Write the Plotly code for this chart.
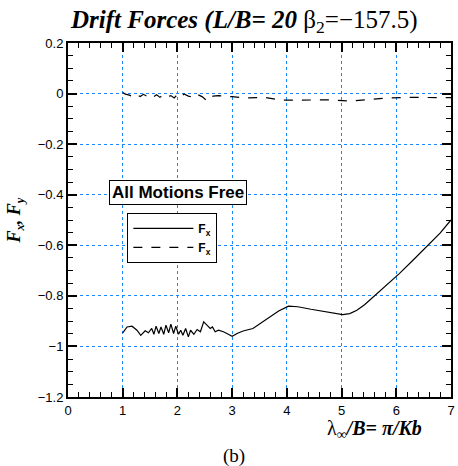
import plotly.graph_objects as go

# Solid line (Fx)
fx_x = [1.00, 1.08, 1.17, 1.26, 1.33, 1.41, 1.47, 1.53, 1.57, 1.61, 1.66, 1.70, 1.75, 1.79,
        1.84, 1.88, 1.93, 1.97, 2.02, 2.06, 2.10, 2.15, 2.20, 2.24, 2.30, 2.36, 2.42, 2.48,
        2.54, 2.60, 2.64, 2.69, 2.75, 2.84, 2.93, 3.00, 3.10, 3.20, 3.38, 3.55, 3.71, 3.85,
        4.03, 4.20, 4.44, 4.70, 4.86, 5.02, 5.15, 5.28, 5.42, 5.58, 5.80, 6.06, 6.30, 6.55,
        6.80, 7.00]
fx_y = [-0.946, -0.923, -0.920, -0.936, -0.956, -0.938, -0.946, -0.929, -0.952, -0.920,
        -0.949, -0.923, -0.952, -0.916, -0.946, -0.912, -0.949, -0.920, -0.952, -0.936,
        -0.956, -0.929, -0.962, -0.936, -0.952, -0.933, -0.942, -0.903, -0.916, -0.929,
        -0.923, -0.942, -0.936, -0.942, -0.952, -0.960, -0.948, -0.939, -0.929, -0.905,
        -0.883, -0.860, -0.841, -0.843, -0.853, -0.862, -0.867, -0.874, -0.870, -0.857,
        -0.835, -0.804, -0.760, -0.711, -0.660, -0.606, -0.552, -0.500]

# Dashed line (Fy)
fy_x = [1.00, 1.05, 1.12, 1.20, 1.26, 1.32, 1.38, 1.44, 1.50, 1.56, 1.62, 1.68, 1.74, 1.80,
        1.88, 1.94, 2.00, 2.06, 2.12, 2.20, 2.30, 2.36, 2.45, 2.55, 2.65, 2.75, 2.87, 3.00,
        3.23, 3.59, 3.89, 4.38, 4.80, 5.16, 5.40, 5.80, 6.20, 6.60, 7.00]
fy_y = [0.004, -0.002, -0.006, -0.014, -0.005, -0.012, -0.003, -0.010, -0.003, -0.013,
        -0.005, -0.015, -0.005, -0.014, -0.008, -0.017, -0.004, -0.015, -0.002, -0.010,
        -0.016, -0.003, -0.012, -0.030, -0.010, -0.008, -0.011, -0.012, -0.017, -0.015,
        -0.026, -0.025, -0.025, -0.030, -0.025, -0.018, -0.015, -0.015, -0.016]

series_names = ["<b>F<sub>x</sub></b>", "<b>F<sub>x</sub></b>"]

SERIF = "Liberation Serif"
SANS = "Liberation Sans"

fig = go.Figure()
fig.add_trace(go.Scatter(x=fx_x, y=fx_y, mode="lines", name=series_names[0],
                         line=dict(color="black", width=1.2)))
fig.add_trace(go.Scatter(x=fy_x, y=fy_y, mode="lines", name=series_names[1],
                         line=dict(color="black", width=1.2, dash="dash")))

for ax, rng, dt, mdt in ((fig.update_xaxes, [0, 7], 1, 0.2), (fig.update_yaxes, [-1.2, 0.2], 0.2, 0.05)):
    ax(range=rng, dtick=dt, tick0=0,
       showline=True, linewidth=2, linecolor="black", mirror="allticks",
       ticks="inside", ticklen=9, tickwidth=2, tickcolor="black",
       showgrid=True, gridcolor="#1a86ff", griddash="dot", gridwidth=1,
       zeroline=False,
       tickfont=dict(family=SANS, size=13, color="black"),
       minor=dict(dtick=mdt, ticks="inside", ticklen=5, tickwidth=1, tickcolor="black"))

fig.update_layout(
    width=458, height=466,
    margin=dict(l=68, r=3, t=43, b=69),
    paper_bgcolor="white", plot_bgcolor="white",
    showlegend=True,
    legend=dict(x=0.155, y=0.52, xanchor="left", yanchor="top",
                bgcolor="white", bordercolor="black", borderwidth=1,
                font=dict(family=SANS, size=12, color="black"),
                itemwidth=60),
)

fig.add_annotation(text="<b><i>Drift Forces (L/B= 20 </i></b>β<sub>2</sub>=−157.5)",
                   xref="paper", yref="paper", x=0.459, y=1.062,
                   xanchor="center", yanchor="middle", showarrow=False,
                   font=dict(family=SERIF, size=25, color="black"))

fig.add_annotation(text="<b>All Motions Free</b>", xref="paper", yref="paper",
                   x=0.287, y=0.577, xanchor="center", yanchor="middle", showarrow=False,
                   font=dict(family=SANS, size=17, color="black"),
                   bordercolor="black", borderwidth=1, borderpad=2, bgcolor="white")

fig.add_annotation(text="<b><i>F<sub>x</sub>, F<sub>y</sub></i></b>", xref="paper", yref="paper",
                   x=-0.137, y=0.497, xanchor="center", yanchor="middle", showarrow=False,
                   textangle=-90, font=dict(family=SERIF, size=18, color="black"))

fig.add_annotation(text="λ<sub>∞</sub><b><i>/B= π/Kb</i></b>", xref="paper", yref="paper",
                   x=0.80, y=-0.092, xanchor="center", yanchor="middle", showarrow=False,
                   font=dict(family=SERIF, size=20, color="black"))

fig.add_annotation(text="(b)", xref="paper", yref="paper",
                   x=0.434, y=-0.166, xanchor="center", yanchor="middle", showarrow=False,
                   font=dict(family=SERIF, size=19, color="black"))

fig.write_html("out.html")
